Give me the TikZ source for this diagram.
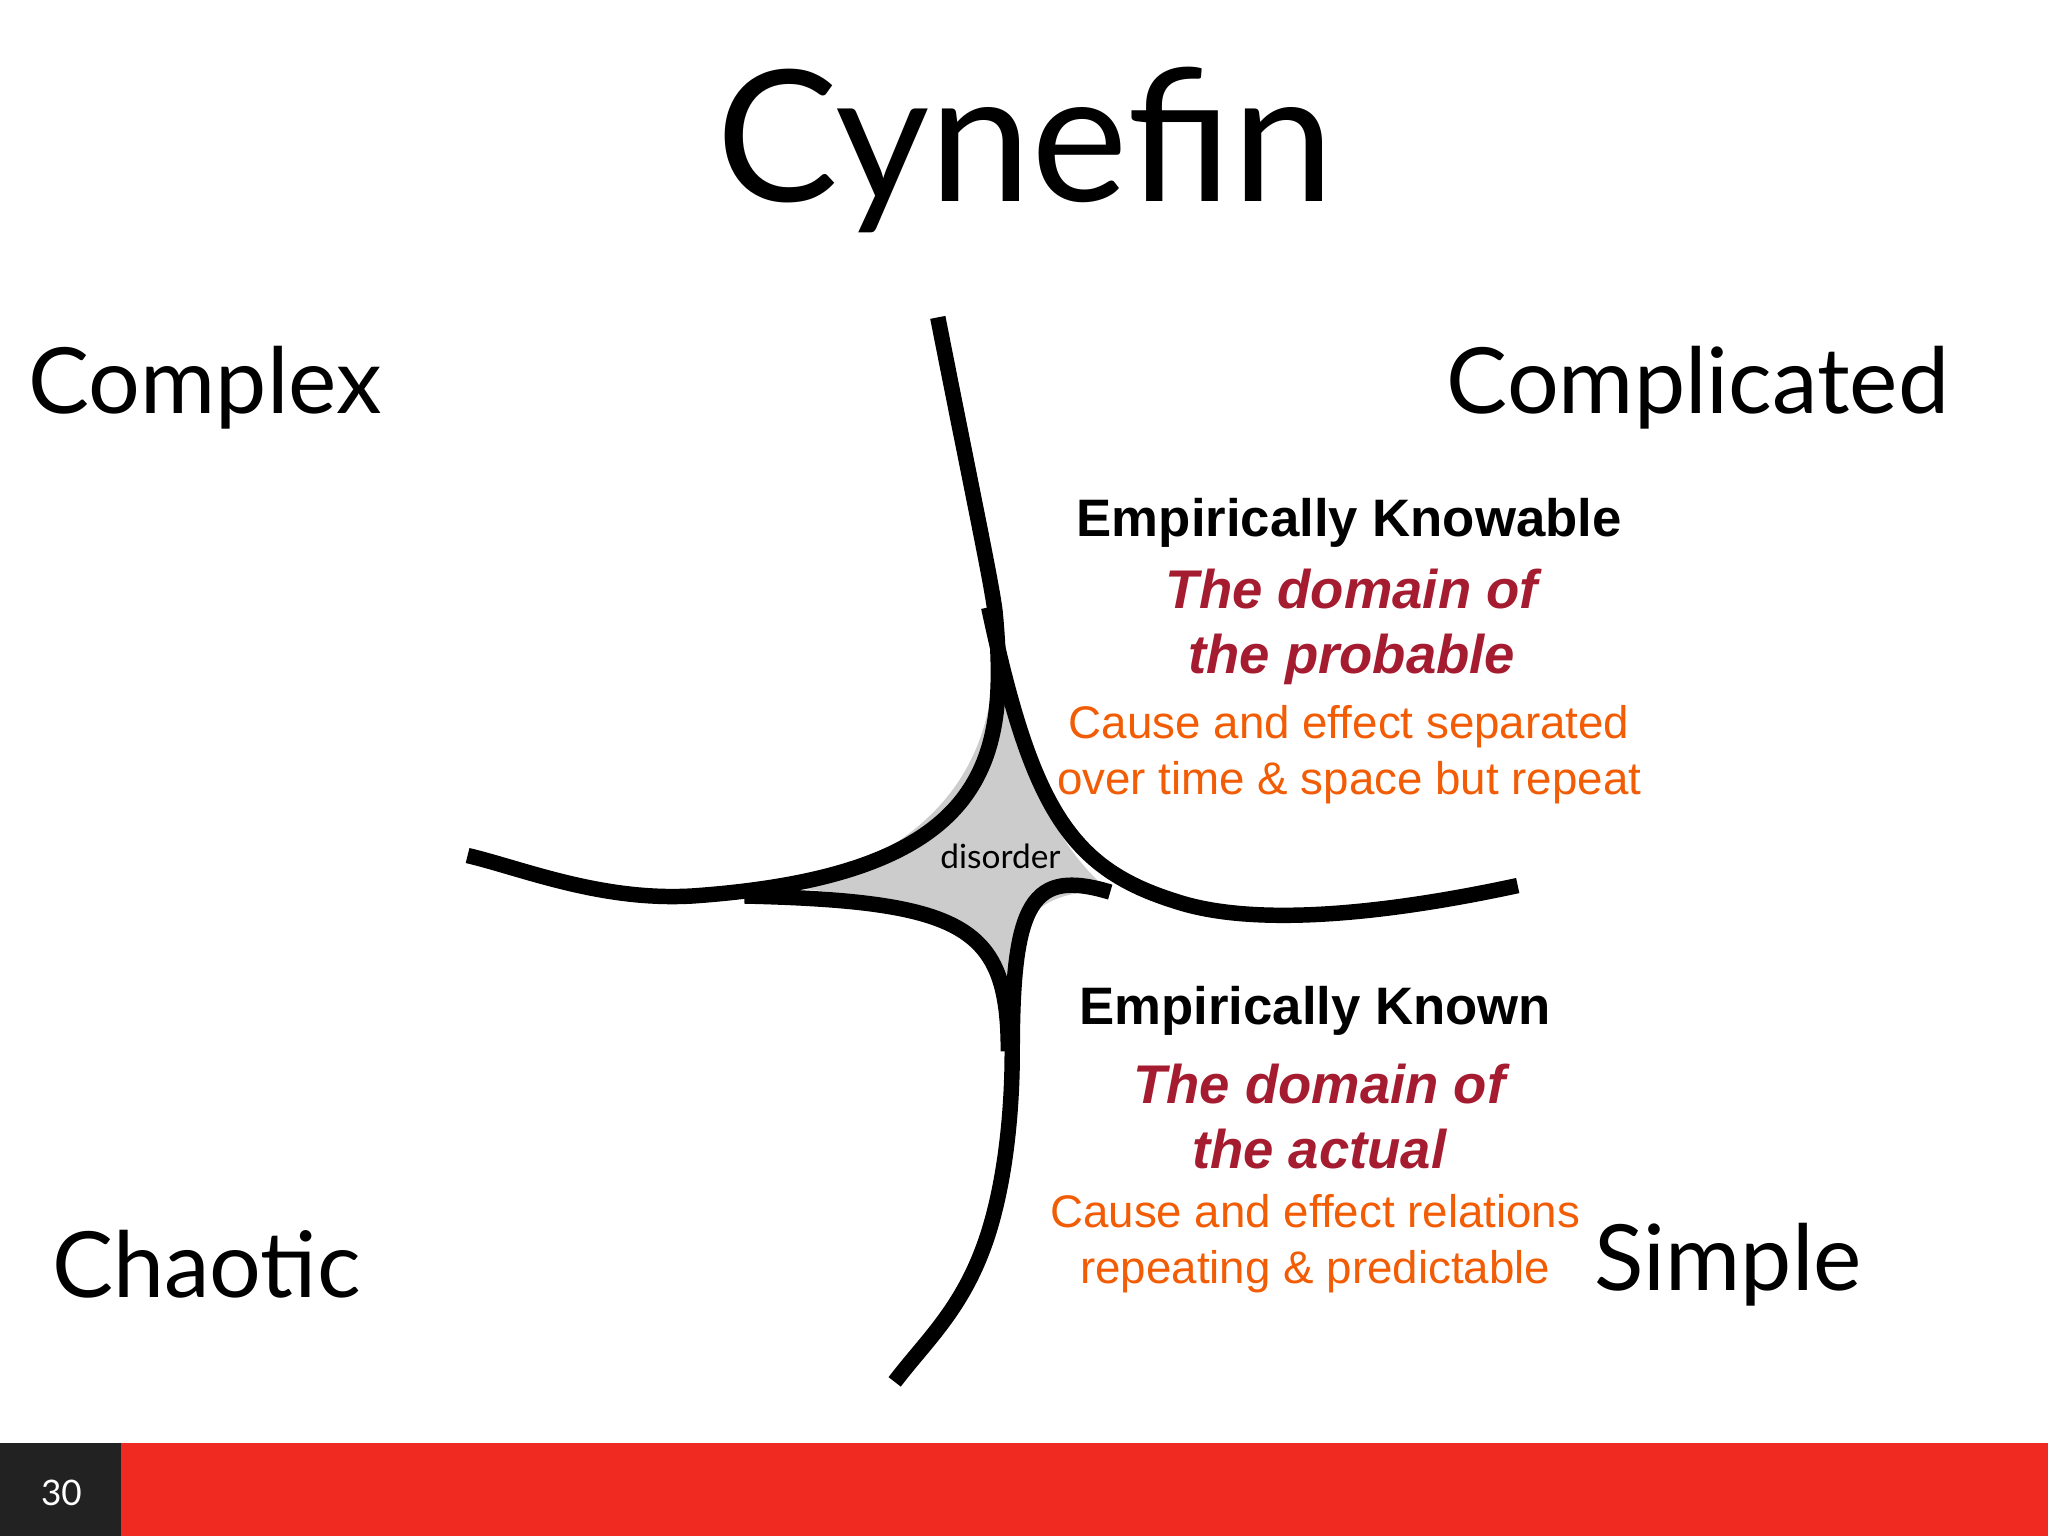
\documentclass[tikz,border=0pt]{standalone}
\usepackage{fontspec}
\setmainfont{Liberation Sans}
\newfontfamily\gill{Lato}
\definecolor{dred}{HTML}{A51C30}
\definecolor{ored}{HTML}{F25C05}
\definecolor{barred}{HTML}{F12A21}
\definecolor{boxdark}{HTML}{222222}
\begin{document}
\begin{tikzpicture}[x=0.013061cm,y=-0.013061cm,
  bline/.style={line width=4.4pt,line cap=butt,black},
  quad/.style={font=\gill\fontsize{26}{30}\selectfont},
  head/.style={font=\bfseries\fontsize{15}{18}\selectfont},
  dom/.style={font=\bfseries\itshape\fontsize{15.5}{18.5}\selectfont,text=dred,align=center},
  desc/.style={font=\fontsize{13}{16}\selectfont,text=ored,align=center}]
\useasboundingbox (0,0) rectangle (1568,1176);
% disorder fill
\fill[black!20] (760,470) .. controls (768,560) and (740,640) .. (610,680)
  .. controls (700,690) and (760,700) .. (772,760)
  .. controls (775,710) and (790,680) .. (850,683)
  .. controls (800,640) and (780,580) .. (760,470) -- cycle;
\draw[bline] (718,243) .. controls (745,380) and (760,450) .. (762,470)
  .. controls (772,580) and (760,670) .. (530,686)
  .. controls (460,690) and (400,665) .. (358,655);
\draw[bline] (757,465) .. controls (790,620) and (820,665) .. (900,690)
  .. controls (960,710) and (1060,700) .. (1162,678);
\draw[bline] (570,686) .. controls (740,690) and (772,710) .. (772,805);
\draw[bline] (850,683) .. controls (790,665) and (775,690) .. (775,805)
  .. controls (775,850) and (770,900) .. (758,940)
  .. controls (740,1000) and (710,1025) .. (685,1058);
\node[font=\gill\fontsize{9.5}{11}\selectfont] (dis) at (766,656) {disorder};
\node[font=\gill\fontsize{52}{60}\selectfont] (title) at (785,115) {Cynefin};
\node[quad] (cx) at (157,297) {Complex};
\node[quad] (cd) at (1300,297) {Complicated};
\node[quad] (ch) at (158,968) {Chaotic};
\node[quad] (si) at (1323,968) {Simple};
\node[head] (ek) at (1033,400) {Empirically Knowable};
\node[dom] (d1) at (1035,480) {The domain of\\the probable};
\node[desc] (c1) at (1033,578) {Cause and effect separated\\over time \& space but repeat};
\node[head] (ekn) at (1007,774) {Empirically Known};
\node[dom] (d2) at (1010,855) {The domain of\\the actual};
\node[desc] (c2) at (1007,952) {Cause and effect relations\\repeating \& predictable};
\fill[barred] (93,1105) rectangle (1568,1176);
\fill[boxdark] (0,1105) rectangle (93,1176);
\node[text=white,font=\gill\fontsize{10}{12}\selectfont] (pg) at (47,1143) {30};
\end{tikzpicture}
\end{document}
